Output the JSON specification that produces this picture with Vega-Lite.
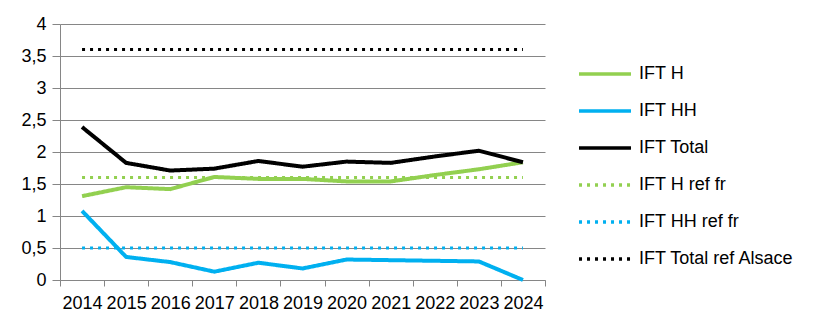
{
  "$schema": "https://vega.github.io/schema/vega-lite/v6.json",
  "width": 485,
  "height": 256,
  "autosize": {"type": "none"},
  "padding": {"left": 60, "top": 24, "right": 275, "bottom": 53},
  "background": "white",
  "config": {
    "font": "Liberation Sans",
    "view": {"stroke": null},
    "axis": {"labelFont": "Liberation Sans", "labelFontSize": 18, "labelColor": "#000000", "titleFontSize": 0}
  },
  "data": {
    "values": [
      {"year": "2014", "series": "IFT H", "value": 1.31},
      {"year": "2015", "series": "IFT H", "value": 1.45},
      {"year": "2016", "series": "IFT H", "value": 1.42},
      {"year": "2017", "series": "IFT H", "value": 1.61},
      {"year": "2018", "series": "IFT H", "value": 1.58},
      {"year": "2019", "series": "IFT H", "value": 1.58},
      {"year": "2020", "series": "IFT H", "value": 1.54},
      {"year": "2021", "series": "IFT H", "value": 1.54},
      {"year": "2022", "series": "IFT H", "value": 1.64},
      {"year": "2023", "series": "IFT H", "value": 1.73},
      {"year": "2024", "series": "IFT H", "value": 1.84},
      {"year": "2014", "series": "IFT HH", "value": 1.08},
      {"year": "2015", "series": "IFT HH", "value": 0.36},
      {"year": "2016", "series": "IFT HH", "value": 0.28},
      {"year": "2017", "series": "IFT HH", "value": 0.13},
      {"year": "2018", "series": "IFT HH", "value": 0.27},
      {"year": "2019", "series": "IFT HH", "value": 0.18},
      {"year": "2020", "series": "IFT HH", "value": 0.32},
      {"year": "2021", "series": "IFT HH", "value": 0.31},
      {"year": "2022", "series": "IFT HH", "value": 0.30},
      {"year": "2023", "series": "IFT HH", "value": 0.29},
      {"year": "2024", "series": "IFT HH", "value": 0.0},
      {"year": "2014", "series": "IFT Total", "value": 2.39},
      {"year": "2015", "series": "IFT Total", "value": 1.83},
      {"year": "2016", "series": "IFT Total", "value": 1.71},
      {"year": "2017", "series": "IFT Total", "value": 1.74},
      {"year": "2018", "series": "IFT Total", "value": 1.86},
      {"year": "2019", "series": "IFT Total", "value": 1.77},
      {"year": "2020", "series": "IFT Total", "value": 1.85},
      {"year": "2021", "series": "IFT Total", "value": 1.83},
      {"year": "2022", "series": "IFT Total", "value": 1.93},
      {"year": "2023", "series": "IFT Total", "value": 2.02},
      {"year": "2024", "series": "IFT Total", "value": 1.84},
      {"year": "2014", "series": "IFT H ref fr", "value": 1.6},
      {"year": "2024", "series": "IFT H ref fr", "value": 1.6},
      {"year": "2014", "series": "IFT HH ref fr", "value": 0.5},
      {"year": "2024", "series": "IFT HH ref fr", "value": 0.5},
      {"year": "2014", "series": "IFT Total ref Alsace", "value": 3.6},
      {"year": "2024", "series": "IFT Total ref Alsace", "value": 3.6}
    ]
  },
  "encoding": {
    "x": {
      "field": "year", "type": "ordinal",
      "scale": {"type": "band", "paddingInner": 0, "paddingOuter": 0, "domain": ["2014","2015","2016","2017","2018","2019","2020","2021","2022","2023","2024"]},
      "axis": {"title": null, "labelAngle": 0, "tickBand": "extent", "tickSize": 6, "tickColor": "#868686", "domainColor": "#868686", "labelPadding": 8, "grid": false}
    },
    "y": {
      "field": "value", "type": "quantitative",
      "scale": {"domain": [0, 4], "nice": false, "zero": true},
      "axis": {"title": null, "values": [0, 0.5, 1, 1.5, 2, 2.5, 3, 3.5, 4], "format": ",.1~f", "labelExpr": "replace(datum.label, '.', ',')", "grid": true, "gridColor": "#868686", "tickColor": "#868686", "domainColor": "#868686", "tickSize": 8, "labelPadding": 6}
    },
    "color": {
      "field": "series", "type": "nominal",
      "scale": {
        "domain": ["IFT H", "IFT HH", "IFT Total", "IFT H ref fr", "IFT HH ref fr", "IFT Total ref Alsace"],
        "range": ["#92D050", "#00B0F0", "#000000", "#92D050", "#00B0F0", "#000000"]
      },
      "legend": {
        "title": null, "orient": "none", "legendX": 517, "legendY": 22,
        "symbolType": "stroke", "symbolSize": 2700, "symbolStrokeWidth": 3.5,
        "labelFont": "Liberation Sans", "labelFontSize": 18, "labelColor": "#000000",
        "labelOffset": 6, "rowPadding": 0, "padding": 0
      }
    },
    "strokeDash": {
      "field": "series", "type": "nominal",
      "scale": {
        "domain": ["IFT H", "IFT HH", "IFT Total", "IFT H ref fr", "IFT HH ref fr", "IFT Total ref Alsace"],
        "range": [[1, 0], [1, 0], [1, 0], [3, 5], [3, 5], [3, 5]]
      },
      "legend": null
    }
  },
  "layer": [
    {"transform": [{"filter": "indexof(datum.series, 'ref') >= 0"}], "mark": {"type": "line", "strokeWidth": 3}},
    {"transform": [{"filter": "indexof(datum.series, 'ref') < 0"}], "mark": {"type": "line", "strokeWidth": 4, "strokeJoin": "miter"}}
  ]
}
